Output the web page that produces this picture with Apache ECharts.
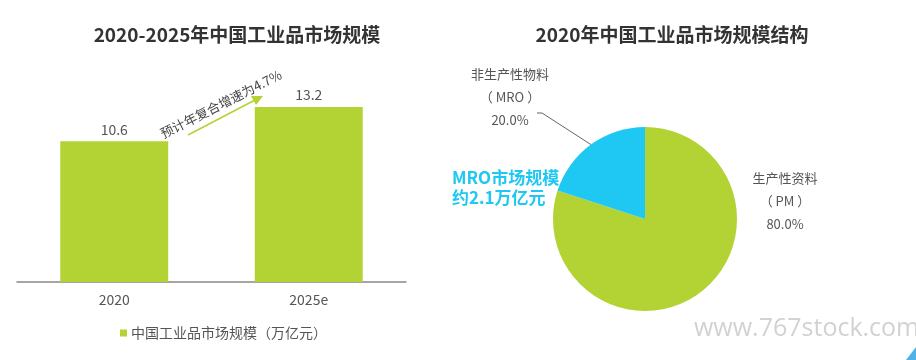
<!DOCTYPE html>
<html><head><meta charset="utf-8">
<script src="https://cdn.jsdelivr.net/npm/echarts@6/dist/echarts.min.js"></script>
<style>html,body{margin:0;padding:0;background:#fff}#c{width:916px;height:360px}</style>
</head><body><div id="c"></div>
<script>
var barTitle = '2020-2025年中国工业品市场规模';
var pieTitle = '2020年中国工业品市场规模结构';
var years = ['2020', '2025e'];
var marketSize = [10.6, 13.2];
var seriesName = '中国工业品市场规模（万亿元）';
var pieNames = ['生产性资料\n（ PM ）', '非生产性物料\n（ MRO ）'];
var pieValues = [80, 20];
var cagrText = '预计年复合增速为4.7%';
var mroNote = 'MRO市场规模\n约2.1万亿元';
var watermark = 'www.767stock.com';

var FONT = '"Noto Sans CJK SC", "Noto Sans", sans-serif';
var GREEN = '#b3d334', BLUE = '#1fc8f2', TXT = '#555';

var chart = echarts.init(document.getElementById('c'), null, {renderer: 'canvas'});
chart.setOption({
  backgroundColor: '#fff',
  textStyle: {fontFamily: FONT},
  title: [
    {text: barTitle, left: 232, top: 20, textAlign: 'center',
     textStyle: {fontSize: 19, fontWeight: 'bold', color: '#333', fontFamily: FONT}},
    {text: pieTitle, left: 667, top: 20, textAlign: 'center',
     textStyle: {fontSize: 19, fontWeight: 'bold', color: '#333', fontFamily: FONT}}
  ],
  legend: {
    data: [seriesName], left: 115, top: 321, icon: 'rect', itemWidth: 7, itemHeight: 7, itemGap: 4,
    textStyle: {fontSize: 14, color: TXT, fontFamily: FONT, padding: [0, 0, 0, -1]}
  },
  grid: {left: 17, right: 510, top: 83, bottom: 78},
  xAxis: {
    type: 'category', data: years,
    axisLine: {lineStyle: {color: '#888', width: 1.5}},
    axisTick: {show: false},
    axisLabel: {fontSize: 14, color: TXT, margin: 11, fontFamily: FONT}
  },
  yAxis: {type: 'value', min: 0, max: 15, show: false, splitLine: {show: false}},
  series: [
    {
      name: seriesName, type: 'bar', data: marketSize, barWidth: '55.5%',
      itemStyle: {color: GREEN},
      label: {show: true, position: 'top', distance: 5, fontSize: 14, color: TXT, fontFamily: FONT}
    },
    {
      type: 'pie', center: [645, 219], radius: 92, startAngle: 90, clockwise: true,
      color: [GREEN, BLUE],
      data: pieNames.map(function (n, i) {
        return {name: n, value: pieValues[i], labelLine: {show: i === 1}};
      }),
      label: {
        show: true, formatter: function (p) { return p.name + '\n' + p.value.toFixed(1) + '%'; },
        fontSize: 13, lineHeight: 23, color: TXT, align: 'center', fontFamily: FONT
      },
      labelLine: {show: true, length: 20, length2: 5, lineStyle: {color: '#666', width: 1}},
      labelLayout: function (p) {
        if (p.dataIndex === 0) {
          return {x: 785, y: 201, align: 'center', verticalAlign: 'middle'};
        }
        var pts = p.labelLinePoints;
        var start = pts ? pts[0] : [591, 145];
        return {x: 510, y: 97, align: 'center', verticalAlign: 'middle',
                labelLinePoints: [start, [542, 113], [537, 113]]};
      },
      emphasis: {disabled: true}
    }
  ],
  graphic: [
    {type: 'line', shape: {x1: 188, y1: 135, x2: 255, y2: 100},
     style: {stroke: GREEN, lineWidth: 1.5}},
    {type: 'polygon', shape: {points: [[263, 96], [251, 96], [256, 105]]},
     style: {fill: GREEN}},
    {type: 'text', x: 221, y: 104, rotation: 27 * Math.PI / 180,
     style: {text: cagrText, fontSize: 13, fill: '#444', fontFamily: FONT, fontWeight: 'normal',
             textAlign: 'center', textVerticalAlign: 'middle'}},
    {type: 'text', x: 452, y: 188,
     style: {text: mroNote, fontSize: 17, lineHeight: 20, fill: BLUE, fontWeight: 'bold', fontFamily: FONT,
             textAlign: 'left', textVerticalAlign: 'middle'}},
    {type: 'text', x: 694, y: 329,
     style: {text: watermark, fontSize: 25, fill: '#d2d2d2', fontFamily: '"Open Sans", sans-serif',
             textAlign: 'left', textVerticalAlign: 'middle'}},
    {type: 'polygon', shape: {points: [[906, 360], [916, 347], [916, 360]]},
     style: {fill: '#4fb3e8'}}
  ]
});
</script></body></html>
